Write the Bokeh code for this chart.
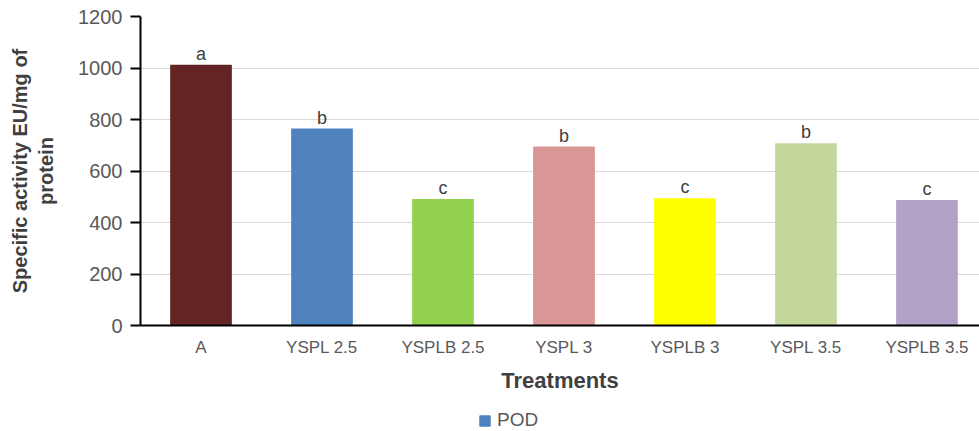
from bokeh.plotting import figure
from bokeh.layouts import column
from bokeh.models import ColumnDataSource, Range1d, FixedTicker, Legend, LegendItem
from bokeh.core.properties import value
from bokeh.embed import file_html
from bokeh.resources import INLINE

categories = ["A", "YSPL 2.5", "YSPLB 2.5", "YSPL 3", "YSPLB 3", "YSPL 3.5", "YSPLB 3.5"]
pod_values = [1013, 765, 491, 695, 494, 708, 487]
letters = ["a", "b", "c", "b", "c", "b", "c"]
bar_colors = ["#632523", "#4F81BD", "#92D050", "#D99694", "#FFFF00", "#C3D69B", "#B3A2C7"]
series_name = "POD"
series_color = "#4F81BD"
y_ticks = [0, 200, 400, 600, 800, 1000, 1200]

FONT = "Liberation Sans"

xs = [i + 0.5 for i in range(len(categories))]
src = ColumnDataSource(dict(x=xs, top=pod_values, color=bar_colors, letter=letters))

p = figure(width=979, height=400,
           x_range=Range1d(0, 6.934), y_range=Range1d(0, 1200),
           output_backend="svg", toolbar_location=None,
           min_border_left=140, min_border_right=0,
           min_border_top=16, min_border_bottom=75)

bars = p.vbar(x="x", top="top", width=0.51, bottom=0, fill_color="color",
              line_color="color", line_width=0, source=src)

p.text(x="x", y="top", text="letter", source=src, text_align="center",
       text_baseline="bottom", y_offset=-1, text_font_size="18px",
       text_color="#404040", text_font=value(FONT))

p.outline_line_color = None
p.xgrid.grid_line_color = None
p.ygrid.grid_line_color = "#D9D9D9"
p.ygrid.grid_line_width = 1
p.ygrid.ticker = FixedTicker(ticks=y_ticks)

# y axis
ya = p.yaxis[0]
ya.ticker = FixedTicker(ticks=y_ticks)
ya.axis_line_color = "black"
ya.axis_line_width = 2
ya.major_tick_line_color = "black"
ya.major_tick_line_width = 2
ya.major_tick_out = 10
ya.major_tick_in = 0
ya.minor_tick_line_color = None
ya.major_label_standoff = 8
ya.major_label_text_font = FONT
ya.major_label_text_font_size = "20px"
ya.major_label_text_color = "#595959"
ya.axis_label = "Specific activity EU/mg of\nprotein"
ya.axis_label_text_font = FONT
ya.axis_label_text_font_size = "20px"
ya.axis_label_text_font_style = "bold"
ya.axis_label_text_color = "#404040"
ya.axis_label_standoff = 18

# x axis
xa = p.xaxis[0]
xa.ticker = FixedTicker(ticks=xs)
xa.major_label_overrides = {x: c for x, c in zip(xs, categories)}
xa.axis_line_color = "black"
xa.axis_line_width = 2
xa.major_tick_line_color = None
xa.minor_tick_line_color = None
xa.major_tick_out = 0
xa.major_tick_in = 0
xa.major_label_standoff = 12
xa.major_label_text_font = FONT
xa.major_label_text_font_size = "17px"
xa.major_label_text_color = "#595959"
xa.axis_label = "Treatments"
xa.axis_label_text_font = FONT
xa.axis_label_text_font_size = "22px"
xa.axis_label_text_font_style = "bold"
xa.axis_label_text_color = "#404040"
xa.axis_label_standoff = 8

# legend strip below the chart (the series' bars sit outside this strip's view)
pl = figure(width=979, height=31, x_range=Range1d(-3, -2), y_range=Range1d(-3, -2),
            output_backend="svg", toolbar_location=None, min_border=0)
pl.axis.visible = False
pl.grid.visible = False
pl.outline_line_color = None
key = pl.vbar(x="x", top="top", width=0.51, bottom=0, source=src,
              fill_color=series_color, line_color=series_color)
legend = Legend(items=[LegendItem(label=series_name, renderers=[key])],
                location=(338, 0), orientation="horizontal",
                glyph_width=13, glyph_height=13, label_standoff=6,
                label_text_font=FONT, label_text_font_size="19px",
                label_text_color="#595959", border_line_color=None,
                background_fill_alpha=0, padding=0, margin=0)
pl.add_layout(legend, "center")

open("out.html", "w").write(file_html(column(p, pl, spacing=0), INLINE))
